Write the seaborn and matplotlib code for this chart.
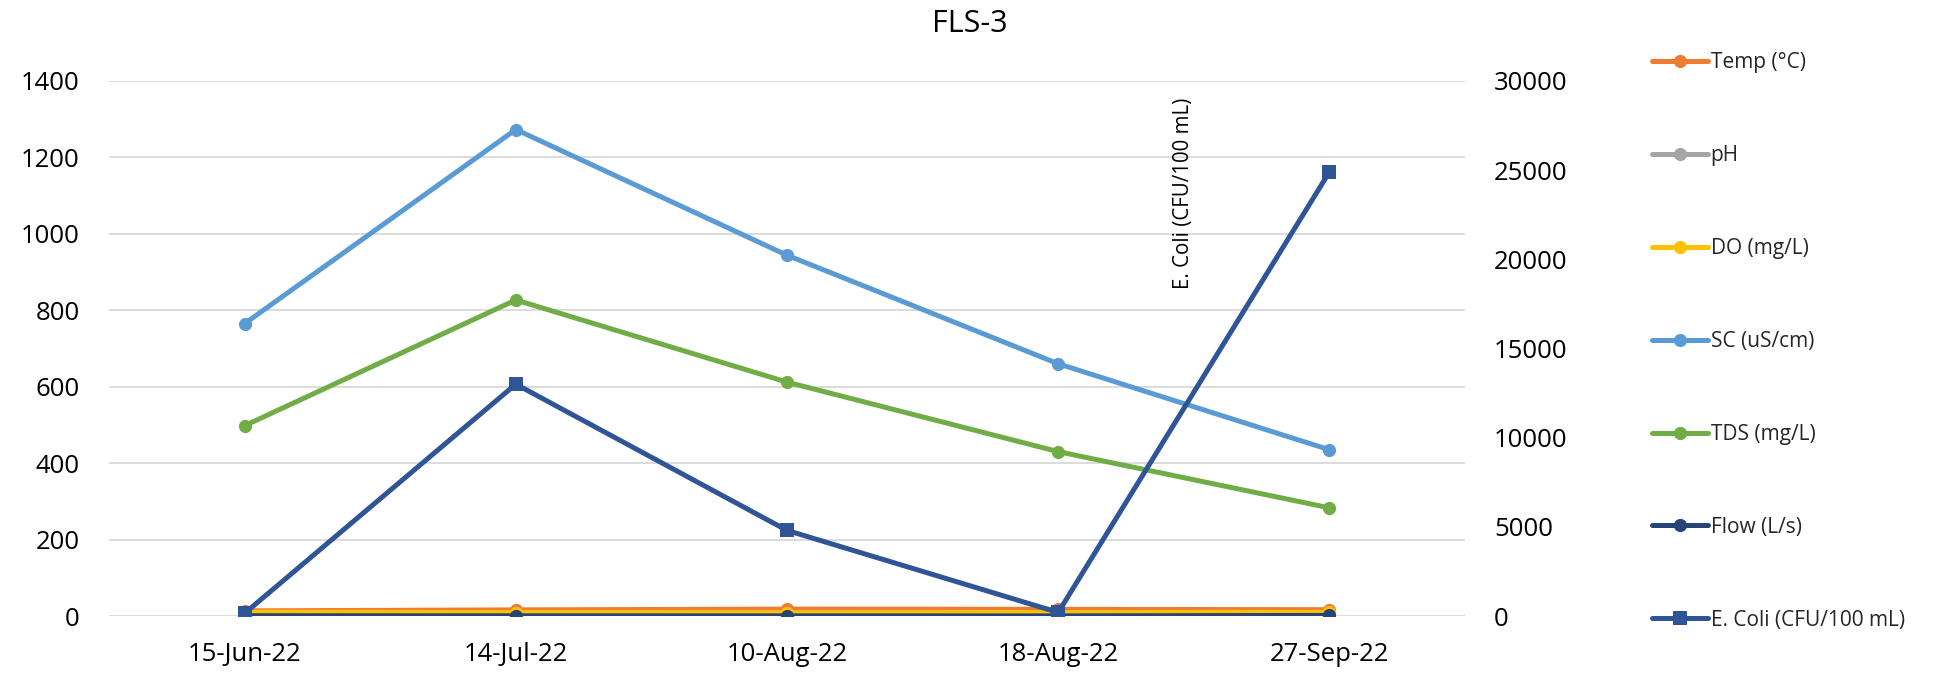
import matplotlib
matplotlib.use("Agg")
import matplotlib.pyplot as plt
import seaborn as sns
import pandas as pd
from matplotlib.lines import Line2D

# Sampling dates and measured parameters for station FLS-3
dates = ["15-Jun-22", "14-Jul-22", "10-Aug-22", "18-Aug-22", "27-Sep-22"]
temp_c = [13.5, 16.0, 18.0, 17.5, 16.5]
ph = [7.8, 7.9, 7.7, 7.8, 7.9]
do_mgl = [10.2, 9.0, 8.5, 8.8, 9.6]
sc_uscm = [765, 1273, 944, 660, 435]
tds_mgl = [498, 827, 612, 430, 283]
flow_ls = [0.8, 0.5, 0.4, 0.3, 1.5]
ecoli_cfu = [150, 13000, 4800, 200, 24900]

left_series = [
    ("Temp (°C)", temp_c, "#ED7D31"),
    ("pH", ph, "#A5A5A5"),
    ("DO (mg/L)", do_mgl, "#FFC000"),
    ("SC (uS/cm)", sc_uscm, "#5B9BD5"),
    ("TDS (mg/L)", tds_mgl, "#70AD47"),
    ("Flow (L/s)", flow_ls, "#264478"),
]
ecoli_label = "E. Coli (CFU/100 mL)"
ecoli_color = "#2F5597"

sns.set_theme(style="white")
plt.rcParams["font.family"] = ["Open Sans", "DejaVu Sans"]

fig = plt.figure(figsize=(19.5, 6.77), dpi=100)
ax = fig.add_axes([0.0559, 0.0901, 0.6954, 0.7903])

lw = 3.6
ms = 9.5
handles = []
for label, vals, color in left_series:
    df = pd.DataFrame({"date": dates, "value": vals})
    sns.lineplot(data=df, x="date", y="value", ax=ax, color=color, linewidth=lw,
                 marker="o", markersize=ms, markeredgewidth=0, sort=False,
                 legend=False)
    handles.append(Line2D([], [], color=color, linewidth=lw, marker="o",
                          markersize=ms, markeredgewidth=0, label=label))

ax2 = ax.twinx()
df_e = pd.DataFrame({"date": dates, "value": ecoli_cfu})
sns.lineplot(data=df_e, x="date", y="value", ax=ax2, color=ecoli_color,
             linewidth=lw, marker="s", markersize=ms, markeredgewidth=0,
             sort=False, legend=False)
handles.append(Line2D([], [], color=ecoli_color, linewidth=lw, marker="s",
                      markersize=ms, markeredgewidth=0, label=ecoli_label))

ax.set_xlim(-0.5, len(dates) - 0.5)
ax.set_ylim(0, 1400)
ax.set_yticks(range(0, 1401, 200))
ax2.set_ylim(0, 30000)
ax2.set_yticks(range(0, 30001, 5000))

ax.yaxis.grid(True, color="#D9D9D9", linewidth=1.3)
ax.xaxis.grid(False)
for a in (ax, ax2):
    for s in a.spines.values():
        s.set_visible(False)
    a.set_xlabel("")
    a.set_ylabel("")
ax.tick_params(axis="y", length=0, pad=21, labelsize=18.5, colors="#000000")
ax.tick_params(axis="x", length=0, pad=19, labelsize=18.5, colors="#000000")
ax2.tick_params(axis="y", length=0, pad=21, labelsize=18.5, colors="#000000")

fig.text(0.4974, 0.964, "FLS-3", ha="center", va="center", fontsize=22, color="#000000")
fig.text(0.6067, 0.715, ecoli_label, rotation=90, ha="center", va="center",
         fontsize=14.8, color="#000000")

fig.legend(handles=handles, loc="upper left", bbox_to_anchor=(0.843, 0.935),
           frameon=False, fontsize=15, labelspacing=3.45, handlelength=2.7,
           handletextpad=0.1, borderaxespad=0)

fig.savefig("out.png", dpi=100)
